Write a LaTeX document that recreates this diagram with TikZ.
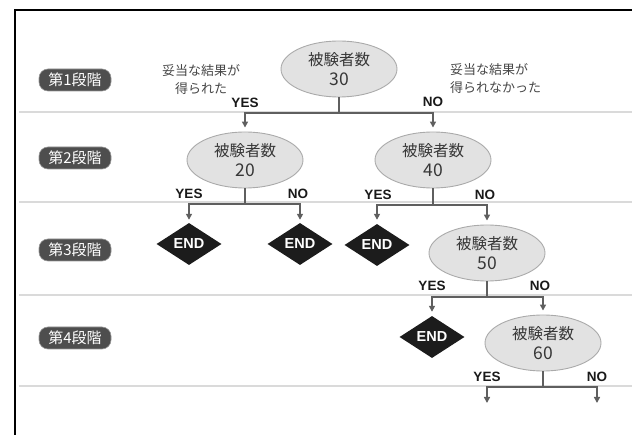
\documentclass[tikz,border=0pt]{standalone}
\usepackage{fontspec}
\setmainfont{Noto Sans CJK JP}
\newfontfamily\lat{Liberation Sans}
\usetikzlibrary{shapes.geometric,arrows.meta}
\definecolor{stagegray}{RGB}{78,78,78}
\definecolor{stageborder}{RGB}{150,150,150}
\definecolor{ellfill}{RGB}{226,226,226}
\definecolor{ellline}{RGB}{170,170,170}
\definecolor{elltext}{RGB}{55,55,55}
\definecolor{enddark}{RGB}{28,28,28}
\definecolor{yntext}{RGB}{25,25,25}
\definecolor{notetext}{RGB}{70,70,70}
\definecolor{linkgray}{RGB}{95,95,95}
\definecolor{sepgray}{RGB}{218,218,218}
\newcommand{\bignum}[1]{{\fontsize{17.5}{19}\selectfont #1}}
\tikzset{
 stage/.style={rounded corners=9pt, fill=stagegray, draw=stageborder, line width=0.6pt,
   minimum width=72pt, minimum height=22pt, inner sep=0pt, text=white,
   font=\fontsize{15}{15}\selectfont},
 subj/.style={ellipse, fill=ellfill, draw=ellline, line width=0.9pt,
   minimum width=116pt, minimum height=56pt, inner sep=0pt, align=center,
   text=elltext, font=\fontsize{15.5}{19.5}\selectfont},
 endd/.style={diamond, fill=enddark, minimum width=65pt, minimum height=42pt,
   inner sep=0pt, text=white, font=\lat\bfseries\fontsize{14.5}{14.5}\selectfont},
 yn/.style={font=\lat\bfseries\fontsize{13.5}{13.5}\selectfont, text=yntext, inner sep=0pt},
 note/.style={font=\fontsize{13}{18}\selectfont, text=notetext, inner sep=0pt},
 link/.style={draw=linkgray, line width=1.6pt},
 arr/.style={link, -{Triangle[width=6pt,length=6pt]}, shorten >=4pt},
 sepline/.style={draw=sepgray, line width=2pt},
 frameline/.style={draw=black, line width=2.2pt},
}
\begin{document}
\begin{tikzpicture}[x=1pt,y=-1pt]
\useasboundingbox (0,0) rectangle (632,435);
% frame
\draw[frameline] (15,435) -- (15,10) -- (632,10);
% separators
\foreach \yy in {112,202,295,386} \draw[sepline] (19,\yy) -- (632,\yy);
% stage labels
\node[stage] (s1) at (75,80) {第1段階};
\node[stage] (s2) at (75,158) {第2段階};
\node[stage] (s3) at (75,250) {第3段階};
\node[stage] (s4) at (75,338) {第4段階};
% subject nodes
\node[subj] (e30) at (339,69) {被験者数\\\bignum{30}};
\node[subj] (e20) at (245,160) {被験者数\\\bignum{20}};
\node[subj] (e40) at (433,160) {被験者数\\\bignum{40}};
\node[subj] (e50) at (487,253) {被験者数\\\bignum{50}};
\node[subj] (e60) at (543,343) {被験者数\\\bignum{60}};
% end diamonds
\node[endd] (d1) at (189,244) {END};
\node[endd] (d2) at (300,244) {END};
\node[endd] (d3) at (377,245) {END};
\node[endd] (d4) at (432,337) {END};
% notes
\node[note, align=center] (nl) at (201,80) {妥当な結果が\\得られた};
\node[note, align=left, anchor=west] (nr) at (450,79) {妥当な結果が\\得られなかった};
% junctions
\coordinate (j1) at (339,113);
\coordinate (j2) at (245,204);
\coordinate (j3) at (433,205);
\coordinate (j4) at (487,297);
\coordinate (j5) at (543,387);
\coordinate (f1) at (487,403);
\coordinate (f2) at (597,403);
% connectors
\draw[link] (e30) -- (j1);
\draw[arr] (j1) -| (e20);
\draw[arr] (j1) -| (e40);
\draw[link] (e20) -- (j2);
\draw[arr, shorten >=3pt] (j2) -| (d1);
\draw[arr, shorten >=3pt] (j2) -| (d2);
\draw[link] (e40) -- (j3);
\draw[arr] (j3) -| (d3);
\draw[arr] (j3) -| (e50);
\draw[link] (e50) -- (j4);
\draw[arr] (j4) -| (d4);
\draw[arr] (j4) -| (e60);
\draw[link] (e60) -- (j5);
\draw[arr, shorten >=0pt] (j5) -| (f1);
\draw[arr, shorten >=0pt] (j5) -| (f2);
% yes / no labels
\node[yn] (y1) at (245,103) {YES};
\node[yn] (n1) at (433,102) {NO};
\node[yn] (y2) at (189,194) {YES};
\node[yn] (n2) at (298,194) {NO};
\node[yn] (y3) at (378,195) {YES};
\node[yn] (n3) at (485,195) {NO};
\node[yn] (y4) at (432,286) {YES};
\node[yn] (n4) at (540,286) {NO};
\node[yn] (y5) at (487,377) {YES};
\node[yn] (n5) at (597,377) {NO};
\end{tikzpicture}
\end{document}
